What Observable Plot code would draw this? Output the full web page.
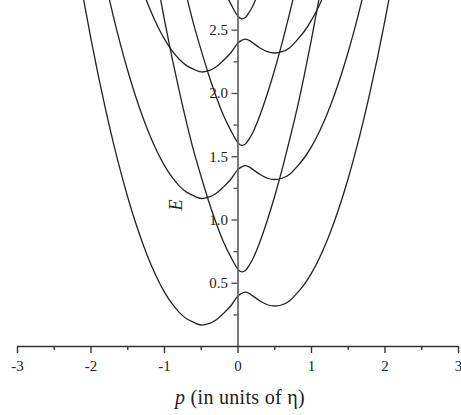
<!DOCTYPE html>
<html>
<head>
<meta charset="utf-8">
<script src="https://cdn.jsdelivr.net/npm/d3@7"></script>
<script src="https://cdn.jsdelivr.net/npm/@observablehq/plot@0.6"></script>
<style>
  body { margin: 0; background: #fff; font-family: "Liberation Serif", "DejaVu Serif", serif; }
  #chart svg { display: block; }
  #cap { width: 461px; height: 35px; line-height: 34px; text-align: center; padding-left: 19px;
         box-sizing: border-box; font-size: 20px; letter-spacing: 0.3px; color: #222;
         font-family: "Liberation Serif", "DejaVu Serif", serif; }
</style>
</head>
<body>
<div id="chart"></div>
<div id="cap"><i>p</i> (in units of η)</div>
<script>
// ---- data: momentum p (units of η) and energy E per branch ----
const branchNames = ["lower0", "upper0", "lower1", "upper1", "lower2", "upper2"];

const p_lower0 = [-2.2,-2.1,-2.0,-1.9,-1.8,-1.7,-1.6,-1.5,-1.4,-1.3,-1.2,-1.1,-1.0,-0.9,-0.8,-0.7,-0.6,-0.5,-0.4,-0.3,-0.2,-0.1,0.0,0.05,0.1,0.15,0.2,0.3,0.4,0.5,0.6,0.7,0.8,0.9,1.0,1.1,1.2,1.3,1.4,1.5,1.6,1.7,1.8,1.9,2.0,2.1];
const E_lower0 = [3.07,2.74,2.43,2.14,1.87,1.62,1.39,1.18,0.99,0.82,0.67,0.54,0.43,0.34,0.27,0.22,0.19,0.17,0.18,0.21,0.26,0.32,0.40,0.42,0.43,0.42,0.40,0.36,0.33,0.32,0.33,0.36,0.42,0.49,0.58,0.69,0.82,0.97,1.14,1.33,1.54,1.77,2.02,2.29,2.58,2.89];

const p_upper0 = [-1.1,-1.0,-0.9,-0.8,-0.7,-0.6,-0.5,-0.4,-0.3,-0.2,-0.1,0.0,0.05,0.1,0.15,0.2,0.3,0.4,0.5,0.6,0.7,0.8,0.9,1.0,1.1,1.2];
const E_upper0 = [2.89,2.58,2.29,2.02,1.77,1.54,1.34,1.15,0.98,0.83,0.71,0.61,0.59,0.60,0.64,0.69,0.83,1.00,1.19,1.40,1.63,1.87,2.14,2.43,2.74,3.07];

const p_lower1 = [-1.8,-1.7,-1.6,-1.5,-1.4,-1.3,-1.2,-1.1,-1.0,-0.9,-0.8,-0.7,-0.6,-0.5,-0.4,-0.3,-0.2,-0.1,0.0,0.05,0.1,0.15,0.2,0.3,0.4,0.5,0.6,0.7,0.8,0.9,1.0,1.1,1.2,1.3,1.4,1.5,1.6,1.7];
const E_lower1 = [2.87,2.62,2.39,2.18,1.99,1.82,1.67,1.54,1.43,1.34,1.27,1.22,1.19,1.17,1.18,1.21,1.26,1.32,1.40,1.42,1.43,1.42,1.40,1.36,1.33,1.32,1.33,1.36,1.42,1.49,1.58,1.69,1.82,1.97,2.14,2.33,2.54,2.77];

const p_upper1 = [-0.8,-0.7,-0.6,-0.5,-0.4,-0.3,-0.2,-0.1,0.0,0.05,0.1,0.15,0.2,0.3,0.4,0.5,0.6,0.7,0.8];
const E_upper1 = [3.02,2.77,2.54,2.34,2.15,1.98,1.83,1.71,1.61,1.59,1.60,1.64,1.69,1.83,2.00,2.19,2.40,2.63,2.87];

const p_lower2 = [-1.3,-1.2,-1.1,-1.0,-0.9,-0.8,-0.7,-0.6,-0.5,-0.4,-0.3,-0.2,-0.1,0.0,0.05,0.1,0.15,0.2,0.3,0.4,0.5,0.6,0.7,0.8,0.9,1.0,1.1,1.2];
const E_lower2 = [2.82,2.67,2.54,2.43,2.34,2.27,2.22,2.19,2.17,2.18,2.21,2.26,2.32,2.40,2.42,2.43,2.42,2.40,2.36,2.33,2.32,2.33,2.36,2.42,2.49,2.58,2.69,2.82];

const p_upper2 = [-0.2,-0.1,0.0,0.05,0.1,0.15,0.2,0.3];
const E_upper2 = [2.83,2.71,2.61,2.59,2.60,2.64,2.69,2.83];

// axis ticks
const xMajorTicks = [-3,-2,-1,0,1,2,3];
const xMinorTicks = [-2.5,-1.5,-0.5,0.5,1.5,2.5];
const yMajorTicks = [0.5,1.0,1.5,2.0,2.5];
const yMinorTicks = [0.25,0.75,1.25,1.75,2.25];
const yTitle = "E";

// ---- build table ----
const series = {
  lower0: [p_lower0, E_lower0], upper0: [p_upper0, E_upper0],
  lower1: [p_lower1, E_lower1], upper1: [p_upper1, E_upper1],
  lower2: [p_lower2, E_lower2], upper2: [p_upper2, E_upper2]
};
const rows = [];
for (const name of branchNames) {
  const [ps, es] = series[name];
  ps.forEach((p, i) => rows.push({branch: name, p, E: es[i]}));
}

const W = 461, H = 380;
const mL = 17, mR = 3, mT = 0, mB = 34;
const xDomain = [-3, 3];
const yShift = (0 - xDomain[0]) / (xDomain[1] - xDomain[0]) * (W - mL - mR); // y axis sits at p = 0

const chart = Plot.plot({
  width: W, height: H,
  marginLeft: mL, marginRight: mR, marginTop: mT, marginBottom: mB,
  x: {domain: xDomain},
  y: {domain: [0, 2.735]},
  style: {fontFamily: "'Liberation Serif', 'DejaVu Serif', serif", fontSize: "15px", color: "#222", background: "#fff"},
  marks: [
    Plot.line(rows, {x: "p", y: "E", z: "branch", stroke: "#222", strokeWidth: 1.3, curve: "catmull-rom", clip: true}),
    Plot.ruleX([0], {stroke: "#666", strokeWidth: 1.7}),
    Plot.ruleY([0], {stroke: "#333", strokeWidth: 1.5}),
    Plot.axisX({ticks: xMajorTicks, tickSize: 7, tickPadding: 7, tickFormat: d => String(d), label: null, stroke: "#333", strokeWidth: 1.4}),
    Plot.axisX({ticks: xMinorTicks, tickSize: 4, tickFormat: () => "", label: null, stroke: "#333", strokeWidth: 1.4}),
    Plot.axisY({ticks: yMajorTicks, anchor: "left", dx: yShift, tickSize: 6, tickPadding: 4, tickFormat: d => d.toFixed(1), label: null, stroke: "#555", strokeWidth: 1.4}),
    Plot.axisY({ticks: yMinorTicks, anchor: "left", dx: yShift, tickSize: 4, tickFormat: () => "", label: null, stroke: "#555", strokeWidth: 1.4}),
    Plot.text([yTitle], {text: d => d, frameAnchor: "left", dx: 159, dy: 37, rotate: -90, fontStyle: "italic", fontSize: 18, fill: "#222"})
  ]
});
document.getElementById("chart").appendChild(chart);
</script>
</body>
</html>
